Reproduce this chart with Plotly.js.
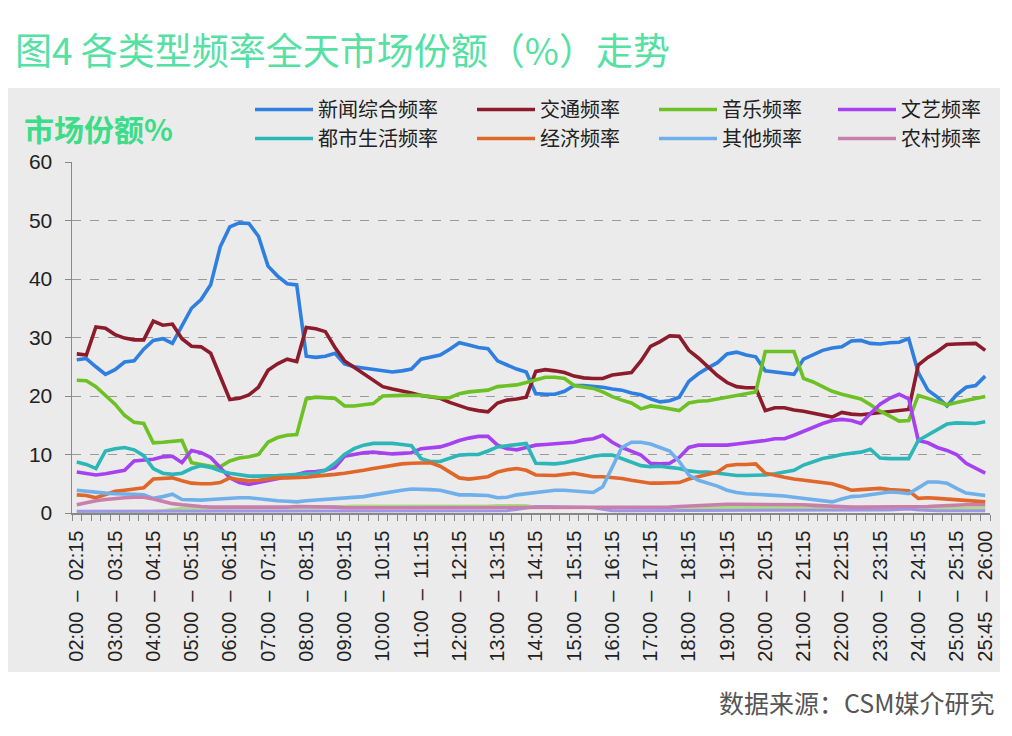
<!DOCTYPE html>
<html>
<head>
<meta charset="utf-8">
<script src="https://cdn.plot.ly/plotly-3.0.1.min.js"></script>
<style>html,body{margin:0;padding:0;background:#fff;}#chart{width:1012px;height:736px;}</style>
</head>
<body>
<div id="chart"></div>
<script>
// 96 quarter-hour slots 02:00 – 26:00
function hm(m){var h=Math.floor(m/60),mm=m%60;return String(h).padStart(2,'0')+':'+String(mm).padStart(2,'0');}
var categories=[];
for(var k=0;k<96;k++){categories.push(hm(120+15*k)+' – '+hm(135+15*k));}

var tickSlots=[0,4,8,12,16,20,24,28,32,36,40,44,48,52,56,60,64,68,72,76,80,84,88,92,95];
var tickLabels=["02:00\u2002–\u200202:15","03:00\u2002–\u200203:15","04:00\u2002–\u200204:15","05:00\u2002–\u200205:15","06:00\u2002–\u200206:15","07:00\u2002–\u200207:15","08:00\u2002–\u200208:15","09:00\u2002–\u200209:15","10:00\u2002–\u200210:15","11:00\u2002–\u200211:15","12:00\u2002–\u200212:15","13:00\u2002–\u200213:15","14:00\u2002–\u200214:15","15:00\u2002–\u200215:15","16:00\u2002–\u200216:15","17:00\u2002–\u200217:15","18:00\u2002–\u200218:15","19:00\u2002–\u200219:15","20:00\u2002–\u200220:15","21:00\u2002–\u200221:15","22:00\u2002–\u200222:15","23:00\u2002–\u200223:15","24:00\u2002–\u200224:15","25:00\u2002–\u200225:15","25:45\u2002–\u200226:00"];

var seriesNames=["新闻综合频率","交通频率","音乐频率","文艺频率","都市生活频率","经济频率","其他频率","农村频率"];

var news=[26.2,26.4,25.0,23.7,24.5,25.8,26.0,28.0,29.5,29.8,29.0,32.0,35.0,36.5,39.0,45.5,48.9,49.6,49.5,47.3,42.2,40.5,39.2,39.0,26.8,26.6,26.8,27.3,25.5,25.0,24.8,24.6,24.3,24.1,24.3,24.6,26.3,26.6,27.0,28.0,29.1,28.7,28.3,28.1,26.0,25.3,24.6,24.1,20.4,20.3,20.3,20.8,21.8,21.8,21.7,21.5,21.2,21.0,20.5,20.2,19.5,19.0,19.2,19.8,22.5,23.8,24.8,25.7,27.2,27.5,27.0,26.7,24.3,24.1,23.9,23.7,26.3,27.0,27.8,28.2,28.4,29.4,29.5,29.0,28.9,29.1,29.2,29.8,24.0,21.0,19.8,18.3,20.2,21.5,21.8,23.4];
var traffic=[27.2,27.0,31.8,31.6,30.5,29.9,29.6,29.6,32.8,32.1,32.3,29.8,28.5,28.4,27.3,23.5,19.4,19.6,20.2,21.5,24.4,25.5,26.3,25.9,31.7,31.5,31.0,28.3,26.0,24.9,23.8,22.8,21.6,21.2,20.9,20.5,20.1,19.9,19.6,18.9,18.3,17.8,17.5,17.3,18.8,19.3,19.5,19.8,24.2,24.5,24.3,24.0,23.4,23.1,23.0,23.0,23.6,23.8,24.0,26.0,28.5,29.3,30.3,30.2,27.8,26.5,25.0,23.5,22.3,21.6,21.4,21.4,17.5,18.0,18.0,17.6,17.4,17.1,16.8,16.4,17.2,16.9,16.8,17.0,17.2,17.4,17.6,17.7,25.3,26.6,27.6,28.8,28.9,28.9,29.0,27.8];
var music=[22.7,22.6,21.6,20.2,18.6,16.7,15.5,15.3,12.0,12.1,12.3,12.4,8.6,8.3,8.0,7.9,8.9,9.4,9.6,10.0,12.1,12.9,13.3,13.4,19.5,19.8,19.7,19.6,18.3,18.3,18.5,18.7,20.0,20.1,20.1,20.1,20.1,19.9,19.7,19.7,20.4,20.7,20.9,21.0,21.6,21.8,21.9,22.3,22.8,23.2,23.2,23.0,21.8,21.5,21.3,20.7,19.9,19.3,18.8,17.8,18.3,18.1,17.8,17.5,18.8,19.1,19.2,19.5,19.8,20.1,20.5,20.7,27.6,27.6,27.6,27.6,23.0,22.4,21.6,20.8,20.3,19.9,19.5,18.5,17.4,16.6,15.7,15.8,20.1,19.6,19.1,18.5,18.9,19.2,19.6,19.9];
var arts=[7.0,6.8,6.5,6.7,7.0,7.3,8.9,9.0,9.2,9.6,9.7,8.6,10.7,10.3,9.5,7.8,6.0,5.2,4.9,5.2,5.5,5.9,6.2,6.6,7.0,7.1,7.3,7.8,9.7,10.0,10.3,10.4,10.2,10.1,10.2,10.3,11.0,11.1,11.3,11.8,12.4,12.8,13.1,13.1,11.6,11.0,10.8,11.2,11.6,11.7,11.8,11.9,12.1,12.5,12.7,13.3,12.1,11.2,10.5,9.9,8.5,8.4,8.5,9.5,11.2,11.6,11.6,11.6,11.6,11.8,12.0,12.1,12.4,12.7,12.7,13.3,14.0,14.7,15.3,15.8,16.0,15.8,15.3,17.0,18.6,19.6,20.3,19.5,12.4,12.0,11.2,10.7,10.0,8.5,7.7,6.8];
var metro=[8.7,8.3,7.6,10.6,11.0,11.2,10.8,9.8,7.6,6.8,6.6,6.8,7.6,8.1,7.8,7.2,6.8,6.5,6.3,6.3,6.3,6.4,6.5,6.6,6.7,6.8,7.3,8.5,10.0,11.0,11.6,11.9,11.9,11.9,11.7,11.5,9.3,8.8,8.8,9.3,9.9,10.0,10.0,10.6,11.3,11.5,11.7,11.9,8.5,8.4,8.4,8.6,8.9,9.3,9.7,9.9,9.9,9.3,8.6,8.1,7.9,8.0,7.8,7.6,7.2,7.0,7.0,6.8,6.5,6.4,6.4,6.4,6.5,6.7,7.0,7.3,8.2,8.8,9.3,9.6,10.0,10.2,10.4,10.9,9.4,9.3,9.3,9.3,12.4,13.3,14.2,15.2,15.4,15.4,15.3,15.6];
var econ=[3.1,3.0,2.6,3.2,3.7,3.9,4.1,4.3,5.8,5.9,6.0,5.5,5.1,5.0,5.0,5.2,6.0,5.7,5.5,5.6,5.8,6.0,6.0,6.0,6.1,6.3,6.4,6.6,6.8,7.0,7.3,7.6,7.9,8.2,8.4,8.5,8.6,8.6,8.0,7.0,6.0,5.8,6.0,6.2,7.0,7.4,7.6,7.3,6.5,6.4,6.4,6.6,6.8,6.5,6.2,6.2,6.1,5.9,5.6,5.4,5.1,5.1,5.1,5.2,5.8,6.2,6.6,7.0,8.1,8.3,8.3,8.4,6.8,6.4,6.1,5.8,5.6,5.3,5.1,5.0,4.5,3.9,4.0,4.1,4.2,4.0,3.9,3.8,2.5,2.6,2.5,2.4,2.3,2.2,2.0,1.9];
var other=[3.9,3.7,3.5,3.4,3.3,3.3,3.2,3.1,2.5,2.8,3.2,2.3,2.2,2.2,2.3,2.4,2.6,2.6,2.6,2.4,2.2,2.1,2.0,1.9,2.1,2.2,2.3,2.4,2.6,2.7,2.8,3.1,3.4,3.6,3.9,4.1,4.1,4.0,3.9,3.5,3.1,3.1,3.1,3.0,2.6,2.7,3.1,3.3,3.6,3.7,3.9,3.9,3.8,3.7,3.5,4.5,8.0,11.2,12.1,12.1,11.8,11.2,10.6,8.8,6.5,5.6,5.1,4.6,3.9,3.5,3.3,3.2,3.2,3.0,2.9,2.7,2.5,2.3,2.0,1.9,2.4,2.8,2.9,3.1,3.4,3.6,3.5,3.3,4.3,5.3,5.3,5.1,4.2,3.4,3.2,3.0];
var rural=[1.4,1.8,2.1,2.3,2.5,2.6,2.7,2.7,2.4,2.0,1.6,1.4,1.2,1.1,1.0,1.0,0.9,0.9,0.9,0.9,0.9,1.0,1.0,1.1,1.1,1.1,1.0,1.0,0.9,0.9,0.9,0.9,0.9,0.9,0.9,0.9,0.9,0.9,0.9,0.9,0.9,0.9,0.9,0.9,0.9,0.9,0.9,0.9,1.0,1.0,1.0,1.0,1.0,1.0,1.0,1.0,1.0,1.0,1.0,1.0,1.0,1.0,1.0,1.1,1.2,1.3,1.4,1.4,1.5,1.5,1.5,1.5,1.5,1.5,1.5,1.4,1.4,1.3,1.2,1.1,1.0,1.0,1.0,1.0,1.0,1.0,1.0,1.0,1.0,1.1,1.2,1.3,1.4,1.4,1.4,1.4];
// two faint unlabeled lines visible near zero
var faintLavender=[0.3,0.3,0.3,0.3,0.3,0.3,0.3,0.3,0.3,0.3,0.3,0.3,0.3,0.3,0.3,0.3,0.3,0.3,0.3,0.3,0.3,0.3,0.3,0.3,0.3,0.3,0.3,0.3,0.3,0.3,0.3,0.3,0.3,0.3,0.3,0.3,0.3,0.3,0.3,0.3,0.3,0.3,0.3,0.3,0.3,0.4,0.6,0.9,1.1,1.1,1.1,1.1,1.1,1.0,0.9,0.6,0.4,0.4,0.4,0.4,0.4,0.4,0.4,0.4,0.4,0.4,0.4,0.4,0.4,0.4,0.4,0.4,0.4,0.4,0.4,0.4,0.4,0.4,0.4,0.4,0.4,0.4,0.4,0.4,0.4,0.5,0.6,0.7,0.5,0.4,0.4,0.4,0.4,0.4,0.4,0.4];
var faintGreen=[0.2,0.2,0.2,0.2,0.2,0.2,0.2,0.2,0.3,0.4,0.6,0.8,0.8,0.8,0.8,0.8,0.8,0.8,0.8,0.8,0.8,0.8,0.8,0.8,0.8,0.9,1.0,1.1,1.2,1.2,1.2,1.2,1.2,1.2,1.2,1.2,1.2,1.2,1.1,1.1,1.1,1.1,1.1,1.2,1.3,1.3,1.3,1.3,1.0,1.0,1.0,1.0,1.0,1.0,1.0,1.0,1.0,1.0,1.0,1.0,1.0,1.0,1.0,1.0,1.0,1.0,1.0,1.0,1.0,1.0,1.0,1.0,1.0,1.0,1.0,1.0,1.0,1.0,1.0,0.9,0.9,0.8,0.8,0.8,0.8,0.8,0.7,0.7,0.7,0.7,0.8,0.8,0.8,0.8,0.8,0.8];

var seriesValues=[news,traffic,music,arts,metro,econ,other,rural];
var colors=["#2f7fe0","#8c1c2c","#6cc124","#a641f2","#2db6b8","#e0672a","#6fb0ea","#c97fab"];
var legendOf=["legend","legend2","legend3","legend4","legend","legend2","legend3","legend4"];

var traces=[
  {x:categories,y:faintGreen,type:'scatter',mode:'lines',line:{color:'#a9dd80',width:3},showlegend:false,hoverinfo:'skip'},
  {x:categories,y:faintLavender,type:'scatter',mode:'lines',line:{color:'#9c95e8',width:3},showlegend:false,hoverinfo:'skip'}
];
for(var s=0;s<seriesNames.length;s++){
  traces.push({x:categories,y:seriesValues[s],name:seriesNames[s],type:'scatter',mode:'lines',
    line:{color:colors[s],width:3.6},legend:legendOf[s]});
}
var ticktext=categories.map(function(c,i){var j=tickSlots.indexOf(i);return j>=0?tickLabels[j]:'';});

var L=72,R=990,T=162,B=513;
function px(x){return (x-L)/(R-L);}
function py(y){return (B-y)/(B-T);}
var legBase=function(x){return {orientation:'v',x:px(x),xanchor:'left',y:py(90),yanchor:'top',bgcolor:'rgba(0,0,0,0)',
  font:{family:'"Noto Sans CJK SC", sans-serif',size:20,color:'#222'},itemwidth:58,tracegroupgap:0,borderwidth:0};};

var layout={
  width:1012,height:736,
  margin:{l:L,r:1012-R,t:T,b:736-B,pad:0},
  paper_bgcolor:'#ffffff',plot_bgcolor:'rgba(0,0,0,0)',
  font:{family:'"Liberation Sans", Arial, sans-serif',color:'#222'},
  title:{text:'图4 各类型频率全天市场份额（%）走势',xref:'container',x:15/1012,xanchor:'left',yref:'container',y:1-52/736,yanchor:'middle',
    font:{family:'"Noto Sans CJK SC", sans-serif',size:37,color:'#55e0a4'}},
  xaxis:{type:'category',range:[-0.5,95.5],tickmode:'array',tickvals:categories,ticktext:ticktext,tickangle:-90,
    ticks:'outside',ticklen:6,tickcolor:'#888',tickwidth:1,tickson:'boundaries',showline:true,linecolor:'#888',linewidth:1.5,
    showgrid:false,zeroline:false,tickfont:{size:20,color:'#222'},ticklabelstandoff:8,fixedrange:true},
  yaxis:{range:[0,60],tick0:0,dtick:10,ticks:'outside',ticklen:6,tickcolor:'#888',showline:true,linecolor:'#888',linewidth:1.5,
    showgrid:true,gridcolor:'#9a9a9a',griddash:'dash',gridwidth:1,zeroline:false,tickfont:{size:21,color:'#222'},ticklabelstandoff:8,fixedrange:true},
  shapes:[{type:'rect',xref:'paper',yref:'paper',x0:px(8),x1:px(1000),y0:py(672),y1:py(88),fillcolor:'#ebebeb',line:{width:0},layer:'below'}],
  annotations:[
    {text:'市场份额%',xref:'paper',yref:'paper',x:px(22),xanchor:'left',y:py(128),yanchor:'middle',showarrow:false,
      font:{family:'"Noto Sans CJK SC", sans-serif',size:30,weight:700,color:'#3ddc89'}},
    {text:'数据来源：CSM媒介研究',xref:'paper',yref:'paper',x:px(996),xanchor:'right',y:py(702),yanchor:'middle',showarrow:false,
      font:{family:'"Noto Sans CJK SC", sans-serif',size:25,color:'#555'}}
  ],
  legend:legBase(250),legend2:legBase(472),legend3:legBase(654),legend4:legBase(833),
  showlegend:true,hovermode:false
};
Plotly.newPlot('chart',traces,layout,{displayModeBar:false,staticPlot:true});
</script>
</body>
</html>
